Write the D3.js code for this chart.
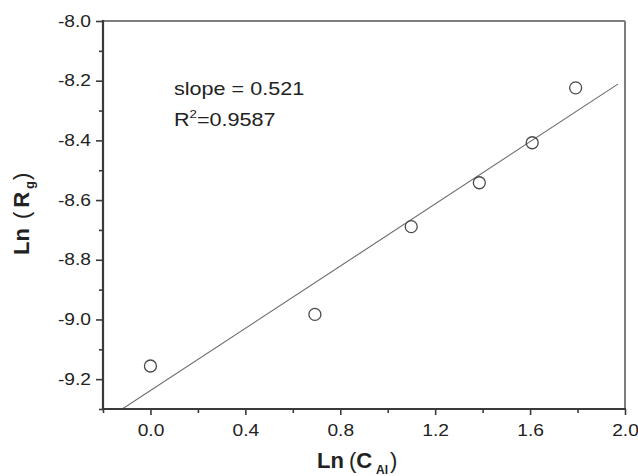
<!DOCTYPE html>
<html>
<head>
<meta charset="utf-8">
<script src="https://cdn.jsdelivr.net/npm/d3@7"></script>
<style>
  body { margin: 0; background: #fff; }
  text { font-family: Arial, "Liberation Sans", sans-serif; fill: #222; }
</style>
</head>
<body>
<svg id="chart" width="638" height="476"></svg>
<script>
// Measured points: Ln(C_Al) vs Ln(R_g)
const lnC  = [0.0, 0.693, 1.099, 1.386, 1.609, 1.792];
const lnRg = [-9.156, -8.983, -8.689, -8.542, -8.408, -8.224];

// Linear fit
const fitSlope = 0.521;
const fitIntercept = -9.238;
const fitRange = [-0.2, 1.97];

// Axis ticks
const xTicks = [0.0, 0.4, 0.8, 1.2, 1.6, 2.0];
const xMinorTicks = [-0.2, 0.2, 0.6, 1.0, 1.4, 1.8];
const yTicks = [-9.2, -9.0, -8.8, -8.6, -8.4, -8.2, -8.0];
const yMinorTicks = [-9.3, -9.1, -8.9, -8.7, -8.5, -8.3, -8.1];

// Fit statistics text
const slopeLabel = "slope = 0.521";
const r2Label = ["R", "2", "=0.9587"];

const svg = d3.select("#chart");
const box = { left: 103, right: 625, top: 21, bottom: 409 };
const labelStretch = 1.2;
const tickFmt = d => d.toFixed(1);   // plain hyphen for negatives

const x = d3.scaleLinear().domain([-0.2, 2.0]).range([box.left, box.right]);
const y = d3.scaleLinear().domain([-9.3, -8.0]).range([box.bottom, box.top]);

svg.append("defs").append("clipPath").attr("id", "plot-clip")
  .append("rect")
  .attr("x", box.left).attr("y", box.top)
  .attr("width", box.right - box.left).attr("height", box.bottom - box.top);

// Fit line
const fitPts = fitRange.map(v => [v, fitIntercept + fitSlope * v]);
svg.append("path")
  .attr("clip-path", "url(#plot-clip)")
  .attr("d", d3.line().x(d => x(d[0])).y(d => y(d[1]))(fitPts))
  .attr("fill", "none")
  .attr("stroke", "#6a6a6a")
  .attr("stroke-width", 1.1);

// Data markers
svg.append("g").selectAll("circle")
  .data(lnC.map((v, i) => [v, lnRg[i]]))
  .join("circle")
  .attr("cx", d => x(d[0]))
  .attr("cy", d => y(d[1]))
  .attr("r", 6)
  .attr("fill", "none")
  .attr("stroke", "#4a4a4a")
  .attr("stroke-width", 1.3);

// Minor ticks
const xMinorAxis = svg.append("g")
  .attr("transform", `translate(0,${box.bottom})`)
  .call(d3.axisBottom(x).tickValues(xMinorTicks).tickSize(4).tickFormat(""));
const yMinorAxis = svg.append("g")
  .attr("transform", `translate(${box.left},0)`)
  .call(d3.axisLeft(y).tickValues(yMinorTicks).tickSize(4).tickFormat(""));

// Major ticks with labels
const xAxis = svg.append("g")
  .attr("transform", `translate(0,${box.bottom})`)
  .call(d3.axisBottom(x).tickValues(xTicks).tickSize(6).tickFormat(tickFmt));
const yAxis = svg.append("g")
  .attr("transform", `translate(${box.left},0)`)
  .call(d3.axisLeft(y).tickValues(yTicks).tickSize(7).tickFormat(tickFmt));

[xMinorAxis, yMinorAxis, xAxis, yAxis].forEach(g => {
  g.select(".domain").remove();
  g.selectAll(".tick line").attr("stroke", "#3a3a3a").attr("stroke-width", 1.6);
});

xAxis.selectAll(".tick text")
  .attr("y", 0).attr("dy", null)
  .attr("transform", `translate(0,27) scale(${labelStretch},1)`)
  .style("font-size", "16px");
yAxis.selectAll(".tick text")
  .attr("x", 0)
  .attr("transform", `translate(-12,0) scale(${labelStretch},1)`)
  .style("font-size", "16px");
svg.selectAll(".tick text").style("fill", "#222");

// Frame
svg.append("line").attr("x1", box.left).attr("x2", box.right).attr("y1", box.top).attr("y2", box.top)
  .attr("stroke", "#7d7d7d").attr("stroke-width", 2);
svg.append("line").attr("x1", box.right).attr("x2", box.right).attr("y1", box.top).attr("y2", box.bottom)
  .attr("stroke", "#7d7d7d").attr("stroke-width", 2);
svg.append("line").attr("x1", box.left).attr("x2", box.left).attr("y1", box.top - 1).attr("y2", box.bottom + 1)
  .attr("stroke", "#3a3a3a").attr("stroke-width", 2.2);
svg.append("line").attr("x1", box.left - 1).attr("x2", box.right + 1).attr("y1", box.bottom).attr("y2", box.bottom)
  .attr("stroke", "#3a3a3a").attr("stroke-width", 2.2);

// Fit statistics
svg.append("text")
  .attr("transform", `translate(174,95) scale(${labelStretch},1)`)
  .style("font-size", "18px")
  .text(slopeLabel);
const r2 = svg.append("text")
  .attr("transform", `translate(174,126) scale(${labelStretch},1)`)
  .style("font-size", "18px");
r2.append("tspan").text(r2Label[0]);
r2.append("tspan").attr("dy", -8).style("font-size", "11px").text(r2Label[1]);
r2.append("tspan").attr("dy", 8).text(r2Label[2]);

// Axis titles
const xTitle = svg.append("text")
  .attr("x", 317).attr("y", 468)
  .style("font-size", "22px").style("font-weight", "bold");
xTitle.append("tspan").text("Ln");
xTitle.append("tspan").attr("dx", 5).style("font-weight", "normal").text("(");
xTitle.append("tspan").text("C");
xTitle.append("tspan").attr("dx", 4).attr("dy", 6).style("font-size", "12px").text("Al");
xTitle.append("tspan").attr("dx", 2).attr("dy", -6).style("font-weight", "normal").text(")");

const yTitle = svg.append("text")
  .attr("transform", "translate(29,255) rotate(-90)")
  .style("font-size", "22px").style("font-weight", "bold");
yTitle.append("tspan").text("Ln");
yTitle.append("tspan").attr("dx", 9).style("font-weight", "normal").text("(");
yTitle.append("tspan").attr("dx", 4).text("R");
yTitle.append("tspan").attr("dx", 3).attr("dy", 5).style("font-size", "13px").text("g");
yTitle.append("tspan").attr("dx", 1).attr("dy", -5).style("font-weight", "normal").text(")");
</script>
</body>
</html>
